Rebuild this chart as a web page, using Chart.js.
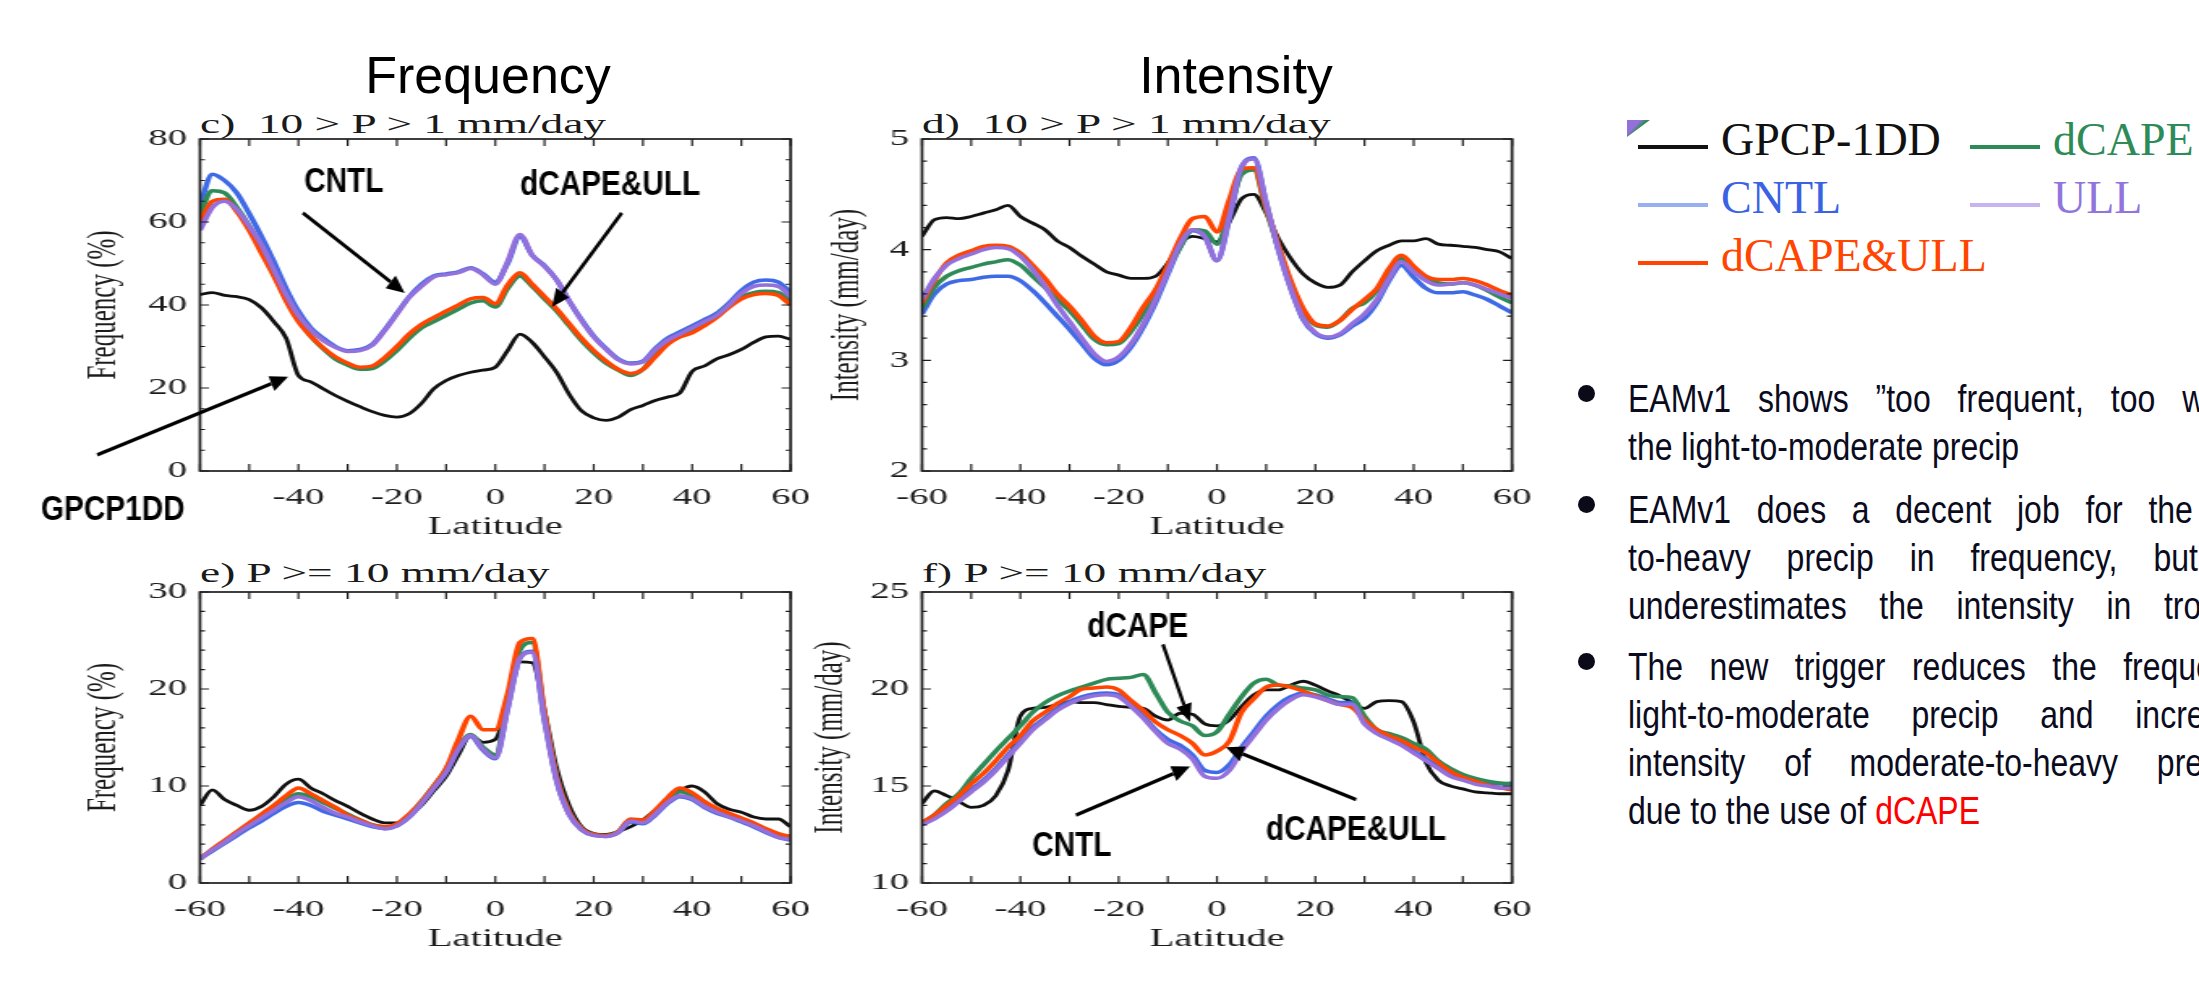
<!DOCTYPE html>
<html><head><meta charset="utf-8">
<script src="https://cdn.jsdelivr.net/npm/chart.js@4.4.1/dist/chart.umd.min.js"></script>
<style>
html,body{margin:0;padding:0;background:#fff;}
body{width:2199px;height:1003px;overflow:hidden;position:relative;}
.t{position:absolute;white-space:pre;}
.title{font-family:"Liberation Sans",Arial,sans-serif;font-size:52px;line-height:52px;color:#000;transform:translateX(-50%);}
.sub{font-family:"Liberation Serif","Times New Roman",serif;font-size:28px;line-height:28px;color:#1a1a1a;transform-origin:0 0;transform:scaleX(1.62);}
.leg{font-family:"Liberation Serif","Times New Roman",serif;font-size:46px;line-height:46px;}
.ll{position:absolute;height:4px;width:70px;}
.bul{position:absolute;width:17px;height:17px;border-radius:50%;background:#0a0a18;}
.bt{font-family:"Liberation Sans",Arial,sans-serif;font-size:39px;line-height:48px;color:#0b0b1e;transform-origin:0 0;transform:scaleX(0.82);}
.tri{position:absolute;left:1627px;top:120px;width:23px;height:17px;clip-path:polygon(0 0,100% 0,0 100%);background:linear-gradient(135deg,#9370db 0%,#9370db 35%,#2e8b57 50%,#4169e1 70%);}
</style></head>
<body>
<div class="t title" style="left:488px;top:49px">Frequency</div>
<div class="t title" style="left:1236px;top:49px">Intensity</div>
<div class="t sub" style="left:200px;top:109.5px">c)  10 &gt; P &gt; 1 mm/day</div>
<div class="t sub" style="left:922px;top:109.5px">d)  10 &gt; P &gt; 1 mm/day</div>
<div class="t sub" style="left:200px;top:558.5px">e) P &gt;= 10 mm/day</div>
<div class="t sub" style="left:922px;top:558.5px">f) P &gt;= 10 mm/day</div>

<div class="tri"></div>
<div class="ll" style="left:1638px;top:145px;background:#111"></div>
<div class="t leg" style="left:1721px;top:116.5px;color:#111">GPCP-1DD</div>
<div class="ll" style="left:1970px;top:145px;background:#2e8b57"></div>
<div class="t leg" style="left:2053px;top:116.5px;color:#2e8b57">dCAPE</div>
<div class="ll" style="left:1638px;top:203px;background:#98aff2"></div>
<div class="t leg" style="left:1721px;top:174.5px;color:#3a62e4">CNTL</div>
<div class="ll" style="left:1970px;top:203px;background:#c6b3ef"></div>
<div class="t leg" style="left:2053px;top:174.5px;color:#9275dc">ULL</div>
<div class="ll" style="left:1638px;top:261px;background:#ff4500"></div>
<div class="t leg" style="left:1721px;top:232.5px;color:#ff4500">dCAPE&amp;ULL</div>

<div class="bul" style="left:1577.5px;top:384.5px"></div>
<div class="t bt" style="left:1628px;top:374.5px;word-spacing:22px">EAMv1 shows ”too frequent, too weak” for</div>
<div class="t bt" style="left:1628px;top:422.5px">the light-to-moderate precip</div>
<div class="bul" style="left:1577.5px;top:495.5px"></div>
<div class="t bt" style="left:1628px;top:485.5px;word-spacing:20.5px">EAMv1 does a decent job for the moderate-</div>
<div class="t bt" style="left:1628px;top:533.5px;word-spacing:33px">to-heavy precip in frequency, but</div>
<div class="t bt" style="left:1628px;top:581.5px;word-spacing:29px">underestimates the intensity in tropics</div>
<div class="bul" style="left:1577.5px;top:652.5px"></div>
<div class="t bt" style="left:1628px;top:642.5px;word-spacing:21.5px">The new trigger reduces the frequency of</div>
<div class="t bt" style="left:1628px;top:690.5px;word-spacing:40px">light-to-moderate precip and increases the</div>
<div class="t bt" style="left:1628px;top:738.5px;word-spacing:36.5px">intensity of moderate-to-heavy precip,</div>
<div class="t bt" style="left:1628px;top:786.5px">due to the use of <span style="color:#ff0000">dCAPE</span></div>

<script>
const S = 1.62; // horizontal stretch of the original figure

const lat = [-60,-57.5,-55,-52.5,-50,-47.5,-45,-42.5,-40,-37.5,-35,-32.5,-30,-27.5,-25,-22.5,-20,-17.5,-15,-12.5,-10,-7.5,-5,-2.5,0,2.5,5,7.5,10,12.5,15,17.5,20,22.5,25,27.5,30,32.5,35,37.5,40,42.5,45,47.5,50,52.5,55,57.5,60];

const seriesNames = ['GPCP-1DD','CNTL','dCAPE','dCAPE&ULL','ULL'];

// c) Frequency, 10 > P > 1 mm/day (%)
const cGPCP  = [42.5,43,42.3,42,41.3,39.3,36,32,23,21.5,19.8,18.2,16.8,15.5,14.3,13.4,13,13.8,16.3,19.8,21.8,23,23.8,24.3,25,29,33,31,27.5,23.7,18.5,14.5,12.8,12.2,13,14.8,15.8,17,17.8,18.8,24,25.3,27,28,29.3,31,32.3,32.5,31.7];
const cCNTL  = [64,71.5,70,67,62,56.5,50.5,44,38.5,34.5,32,30,29,29.3,30.5,34,38,42,45,47,47.5,48,49,47.5,45.5,50,56.5,52,49.5,46,41,36.5,32.5,29.5,27,26,26.5,29.5,32,33.5,35,36.5,38,40.5,43.5,45.5,46,45.5,43];
const cDCAPE = [62,67.5,67,63.5,59,53.5,47.5,41.5,36.5,32.5,29.5,27,25.5,24.5,24.7,26.5,29,32,34.5,36,37.5,39,40.5,41,39.5,44,47,44.5,41.5,38.5,35,31.5,28.5,26,24.3,23,24.5,28,31,32.5,33.5,35.5,37.5,40,42,43,43.3,43,41];
const cBOTH  = [60,65,65.5,62.5,58,52.5,47,41,36,32.5,29.7,27.5,26,25,25.3,27.3,30,33,35.3,37,38.5,40,41.5,41.8,40.3,44.8,47.8,45,42,39,35.5,32,29,26.5,24.5,23.5,24.5,27.5,30.5,32.3,33.3,35,37,39.5,41.5,42.5,42.8,42.3,40];
const cULL   = [58,63.5,65,63,59,54.5,48.5,42.5,37.5,34,31.5,29.8,28.8,29,30.3,33.8,37.8,41.8,44.5,46.8,47.3,47.8,48.8,47.3,45,50.5,57,52,49.3,46,41,36.3,32.3,29.3,26.8,25.8,26.3,29.2,31.5,33,34.5,36,37.5,40,42.8,44.5,44.8,44.5,42];

// d) Intensity, 10 > P > 1 mm/day (mm/day)
const dGPCP  = [4.12,4.27,4.29,4.28,4.30,4.33,4.36,4.40,4.30,4.24,4.18,4.08,4.02,3.94,3.87,3.80,3.77,3.74,3.74,3.76,3.88,4.05,4.12,4.10,4.07,4.25,4.46,4.50,4.33,4.10,3.92,3.78,3.70,3.66,3.68,3.80,3.90,3.99,4.04,4.08,4.08,4.10,4.05,4.04,4.03,4.02,4.00,3.98,3.92];
const dCNTL  = [3.42,3.60,3.69,3.72,3.73,3.75,3.76,3.76,3.72,3.63,3.52,3.40,3.28,3.15,3.02,2.96,3.0,3.12,3.30,3.52,3.78,4.03,4.17,4.12,3.90,4.28,4.74,4.83,4.42,4.0,3.65,3.37,3.24,3.20,3.23,3.31,3.38,3.52,3.72,3.86,3.75,3.65,3.61,3.61,3.62,3.59,3.55,3.49,3.43];
const dDCAPE = [3.47,3.66,3.76,3.81,3.84,3.87,3.89,3.91,3.86,3.76,3.66,3.55,3.45,3.32,3.19,3.14,3.15,3.26,3.42,3.60,3.82,4.02,4.18,4.17,4.05,4.35,4.68,4.72,4.36,4.02,3.70,3.45,3.32,3.30,3.36,3.47,3.52,3.63,3.80,3.92,3.83,3.75,3.70,3.69,3.70,3.68,3.63,3.57,3.52];
const dBOTH  = [3.52,3.72,3.88,3.95,3.99,4.03,4.04,4.03,3.97,3.86,3.74,3.60,3.49,3.36,3.22,3.16,3.17,3.30,3.48,3.64,3.86,4.10,4.28,4.30,4.16,4.45,4.73,4.74,4.38,4.04,3.72,3.47,3.33,3.31,3.36,3.46,3.55,3.65,3.83,3.95,3.85,3.76,3.73,3.73,3.74,3.72,3.68,3.63,3.59];
const dULL   = [3.55,3.74,3.86,3.92,3.96,4.0,4.02,4.01,3.94,3.82,3.67,3.50,3.35,3.20,3.06,2.99,3.03,3.15,3.33,3.55,3.80,4.05,4.18,4.12,3.90,4.30,4.75,4.82,4.42,4.0,3.65,3.38,3.25,3.21,3.24,3.33,3.42,3.55,3.74,3.89,3.80,3.72,3.68,3.69,3.70,3.68,3.64,3.60,3.56];

// e) Frequency, P >= 10 mm/day (%)
const eGPCP  = [8.0,9.6,8.6,8.0,7.5,7.9,8.9,10.2,10.7,9.8,9.2,8.5,7.9,7.2,6.6,6.2,6.2,6.9,8.0,9.5,11.0,13.2,15.2,14.5,14.8,18.5,22.8,22.7,17.8,11.8,8.0,5.8,5.1,5.0,5.3,5.8,6.5,7.5,8.4,9.5,10.0,9.4,8.2,7.6,7.3,6.8,6.6,6.6,5.8];
const eCNTL  = [2.5,3.3,4.1,4.9,5.7,6.4,7.2,7.9,8.3,8.0,7.4,7.0,6.6,6.2,5.8,5.6,5.9,6.8,8.2,9.8,11.4,13.8,15.1,13.7,12.8,18.0,23.2,23.9,16.8,10.5,7.1,5.5,4.9,4.8,5.2,6.3,6.1,7.0,8.2,8.9,8.6,7.8,7.2,6.8,6.3,5.8,5.2,4.7,4.4];
const eDCAPE = [2.5,3.4,4.3,5.2,6.0,6.9,7.7,8.6,9.2,8.9,8.3,7.7,7.1,6.5,6.0,5.8,6.0,7.0,8.4,10.0,11.7,14.0,15.3,14.0,13.2,18.5,24.0,24.8,17.3,10.8,7.3,5.6,5.0,4.9,5.3,6.5,6.3,7.3,8.5,9.4,9.0,8.2,7.5,7.0,6.5,6.0,5.4,4.9,4.6];
const eBOTH  = [2.5,3.5,4.4,5.3,6.2,7.1,8.0,9.0,9.8,9.2,8.5,7.8,7.0,6.5,6.0,5.8,6.1,7.1,8.4,10.0,11.8,14.8,17.2,15.8,15.8,19.5,24.8,25.2,17.5,10.8,7.3,5.6,5.0,4.9,5.3,6.6,6.5,7.5,8.8,9.8,9.3,8.4,7.7,7.2,6.7,6.2,5.6,5.1,4.8];
const eULL   = [2.5,3.4,4.2,5.1,5.9,6.7,7.5,8.3,8.9,8.5,7.8,7.2,6.8,6.3,5.9,5.6,5.9,6.8,8.2,9.8,11.4,13.8,15.2,13.8,12.9,18.0,23.2,23.8,16.8,10.5,7.1,5.5,4.9,4.8,5.2,6.4,6.2,7.1,8.3,9.0,8.7,7.9,7.3,6.8,6.4,5.9,5.3,4.7,4.5];

// f) Intensity, P >= 10 mm/day (mm/day)
const fGPCP  = [14.1,14.75,14.5,14.2,13.9,14.0,14.5,15.8,18.6,19.0,19.05,19.2,19.35,19.3,19.3,19.2,19.1,19.05,19.0,18.6,18.4,18.75,18.7,18.2,18.1,18.4,19.1,19.7,19.95,19.95,20.2,20.4,20.2,19.9,19.65,19.3,19.0,19.35,19.4,19.35,18.3,16.2,15.3,15.0,14.85,14.7,14.65,14.6,14.6];
const fCNTL  = [13.1,13.4,13.8,14.3,14.8,15.3,15.9,16.6,17.3,18.0,18.5,19.0,19.35,19.6,19.75,19.8,19.7,19.2,18.6,17.9,17.4,17.1,16.6,15.8,15.7,16.1,17.0,17.8,18.6,19.2,19.6,19.8,19.7,19.5,19.3,19.3,18.3,17.8,17.5,17.2,16.8,16.4,16.0,15.6,15.4,15.2,15.1,15.1,15.15];
const fDCAPE = [13.1,13.5,14.1,14.6,15.4,16.1,16.8,17.45,18.1,18.8,19.3,19.65,19.9,20.1,20.3,20.5,20.55,20.6,20.75,19.8,18.8,18.35,18.1,17.6,17.8,18.7,19.6,20.3,20.5,20.2,20.15,20.05,19.95,19.7,19.6,19.55,18.6,17.9,17.7,17.5,17.2,16.9,16.3,15.9,15.6,15.4,15.25,15.15,15.1];
const fBOTH  = [13.1,13.5,14.0,14.5,15.1,15.65,16.3,17.0,17.6,18.35,18.8,19.25,19.6,20.0,20.05,20.1,19.95,19.4,18.9,18.3,17.9,17.6,17.2,16.6,16.8,17.3,18.8,19.5,20.1,20.2,20.1,19.9,19.65,19.4,19.2,19.05,18.4,17.9,17.6,17.35,17.0,16.7,16.2,15.75,15.45,15.25,15.05,14.9,14.8];
const fULL   = [13.0,13.3,13.7,14.2,14.7,15.2,15.8,16.5,17.2,17.9,18.4,18.9,19.25,19.5,19.65,19.7,19.6,19.1,18.5,17.8,17.2,16.9,16.4,15.5,15.4,15.8,16.8,17.6,18.4,19.0,19.45,19.7,19.6,19.4,19.2,19.2,18.2,17.7,17.4,17.1,16.7,16.3,15.9,15.5,15.3,15.1,15.0,14.9,14.9];

const seriesColors = ['#111111','#3f6ae6','#2e8b57','#ff4500','#9370db'];
const seriesOrder  = [5,4,3,2,1];
const seriesWidth  = [2.8,3.5,3.5,3.5,3.5];
const serif = '"Liberation Serif","Times New Roman",serif';
const annFont = 'bold 35px "Liberation Sans", Arial, sans-serif';

function arrow(ctx, x1, y1, x2, y2) {
  const a = Math.atan2(y2 - y1, x2 - x1), hl = 18, hw = 8;
  const bx = x2 - hl * Math.cos(a), by = y2 - hl * Math.sin(a);
  ctx.lineWidth = 3.5;
  ctx.beginPath(); ctx.moveTo(x1, y1); ctx.lineTo(bx, by); ctx.stroke();
  ctx.beginPath(); ctx.moveTo(x2, y2);
  ctx.lineTo(bx + hw * Math.sin(a), by - hw * Math.cos(a));
  ctx.lineTo(bx - hw * Math.sin(a), by + hw * Math.cos(a));
  ctx.closePath(); ctx.fill();
}

const framePlugin = {
  id: 'frame',
  afterDraw(chart, args, o) {
    const {ctx, chartArea: a} = chart;
    const x = chart.scales.x, y = chart.scales.y;
    ctx.save();
    ctx.strokeStyle = '#1e1e1e';
    ctx.lineWidth = 1.2;
    const nx = Math.round((x.max - x.min) / o.xMinor);
    for (let i = 0; i <= nx; i++) {
      const px = x.getPixelForValue(x.min + i * o.xMinor);
      ctx.beginPath();
      ctx.moveTo(px, a.top); ctx.lineTo(px, a.top + 7);
      ctx.moveTo(px, a.bottom); ctx.lineTo(px, a.bottom - 7);
      ctx.stroke();
    }
    const ny = Math.round((y.max - y.min) / o.yMinor);
    const per = Math.round(o.yMajor / o.yMinor);
    for (let i = 0; i <= ny; i++) {
      const py = y.getPixelForValue(y.min + i * o.yMinor);
      const len = (i % per === 0 ? 9 : 5) / S;
      ctx.beginPath();
      ctx.moveTo(a.left, py); ctx.lineTo(a.left + len, py);
      ctx.moveTo(a.right, py); ctx.lineTo(a.right - len, py);
      ctx.stroke();
    }
    ctx.lineWidth = 1.7;
    ctx.strokeRect(a.left, a.top, a.right - a.left, a.bottom - a.top);
    // annotations drawn in un-stretched (page) space
    ctx.scale(1 / S, 1);
    ctx.fillStyle = '#000'; ctx.strokeStyle = '#000';
    for (const n of o.ann) {
      arrow(ctx, x.getPixelForValue(n.from[0]) * S, y.getPixelForValue(n.from[1]),
                 x.getPixelForValue(n.to[0]) * S, y.getPixelForValue(n.to[1]));
      ctx.save();
      ctx.translate(x.getPixelForValue(n.at[0]) * S, y.getPixelForValue(n.at[1]));
      ctx.scale(0.85, 1);
      ctx.font = annFont; ctx.textAlign = 'center'; ctx.textBaseline = 'middle';
      ctx.fillText(n.text, 0, 0);
      ctx.restore();
    }
    ctx.restore();
  }
};

function makePanel(p) {
  const cv = document.createElement('canvas');
  const Wc = Math.round(p.cw / S);
  cv.width = Wc; cv.height = p.ch;
  Object.assign(cv.style, {position: 'absolute', left: p.cx + 'px', top: p.cy + 'px',
    width: Wc + 'px', height: p.ch + 'px', transform: 'scaleX(' + S + ')', transformOrigin: '0 0'});
  document.body.appendChild(cv);
  const Lc = (p.L - p.cx) / S, Rc = (p.R - p.cx) / S;
  const tsize = 25, tlh = tsize * 1.2;
  const yLeft = (p.yTitleX - p.cx) / S - tlh / 2;
  const Wy = Lc - yLeft;
  const Hx = 73;
  const datasets = p.series.map((arr, i) => ({
    label: seriesNames[i],
    data: lat.map((v, k) => ({x: v, y: arr[k]})),
    borderColor: seriesColors[i], borderWidth: seriesWidth[i], order: seriesOrder[i],
    pointRadius: 0, fill: false, tension: 0.3, cubicInterpolationMode: 'monotone'
  }));
  new Chart(cv, {
    type: 'line',
    data: {datasets},
    options: {
      responsive: false, animation: false, events: [],
      layout: {padding: {left: yLeft, right: Wc - Rc, top: p.T - p.cy, bottom: p.ch - (p.B - p.cy) - Hx}},
      plugins: {legend: {display: false}, tooltip: {enabled: false},
        frame: {xMinor: 10, yMinor: p.yMinor, yMajor: p.yStep, ann: p.ann || []}},
      scales: {
        x: {type: 'linear', min: -60, max: 60, afterFit(s) { s.height = Hx; },
          grid: {display: false, drawTicks: false}, border: {display: false},
          ticks: {stepSize: 20, autoSkip: false, maxRotation: 0, padding: 12, color: '#1c1c1c',
            font: {family: serif, size: 24},
            callback: v => (p.hideFirstX && v === -60) ? '' : String(v)},
          title: {display: true, text: 'Latitude', color: '#1c1c1c', font: {family: serif, size: tsize},
            padding: {top: 0, bottom: 2}}},
        y: {type: 'linear', min: p.yMin, max: p.yMax, afterFit(s) { s.width = Wy; },
          grid: {display: false, drawTicks: false}, border: {display: false},
          ticks: {stepSize: p.yStep, padding: 8, color: '#1c1c1c', font: {family: serif, size: 24}},
          title: {display: true, text: p.yTitle, color: '#1c1c1c', font: {family: serif, size: tsize},
            padding: {top: 0, bottom: 0}}}
      }
    },
    plugins: [framePlugin]
  });
}

makePanel({cx: 0, cy: 100, cw: 830, ch: 450, L: 200, R: 791, T: 139, B: 471, yTitleX: 105,
  yMin: 0, yMax: 80, yStep: 20, yMinor: 5, yTitle: 'Frequency (%)', hideFirstX: true,
  series: [cGPCP, cCNTL, cDCAPE, cBOTH, cULL],
  ann: [
    {text: 'CNTL', at: [-30.8, 69.6], from: [-39.1, 62.2], to: [-18.4, 42.9]},
    {text: 'dCAPE&ULL', at: [23.3, 68.9], from: [25.7, 62.2], to: [11.5, 39.5]},
    {text: 'GPCP1DD', at: [-77.7, -9.4], from: [-80.9, 3.9], to: [-42.1, 22.7]}
  ]});
makePanel({cx: 790, cy: 100, cw: 770, ch: 450, L: 922, R: 1512, T: 139, B: 471, yTitleX: 848,
  yMin: 2, yMax: 5, yStep: 1, yMinor: 0.2, yTitle: 'Intensity (mm/day)',
  series: [dGPCP, dCNTL, dDCAPE, dBOTH, dULL]});
makePanel({cx: 0, cy: 555, cw: 830, ch: 410, L: 200, R: 791, T: 592, B: 883, yTitleX: 105,
  yMin: 0, yMax: 30, yStep: 10, yMinor: 2, yTitle: 'Frequency (%)',
  series: [eGPCP, eCNTL, eDCAPE, eBOTH, eULL]});
makePanel({cx: 790, cy: 555, cw: 770, ch: 410, L: 922, R: 1512, T: 592, B: 883, yTitleX: 832,
  yMin: 10, yMax: 25, yStep: 5, yMinor: 1, yTitle: 'Intensity (mm/day)',
  series: [fGPCP, fCNTL, fDCAPE, fBOTH, fULL],
  ann: [
    {text: 'dCAPE', at: [-16.1, 23.2], from: [-11.0, 22.3], to: [-5.5, 18.3]},
    {text: 'CNTL', at: [-29.5, 11.9], from: [-28.7, 13.5], to: [-5.5, 16.0]},
    {text: 'dCAPE&ULL', at: [28.3, 12.7], from: [28.3, 14.3], to: [1.8, 17.0]}
  ]});
</script>
</body></html>
